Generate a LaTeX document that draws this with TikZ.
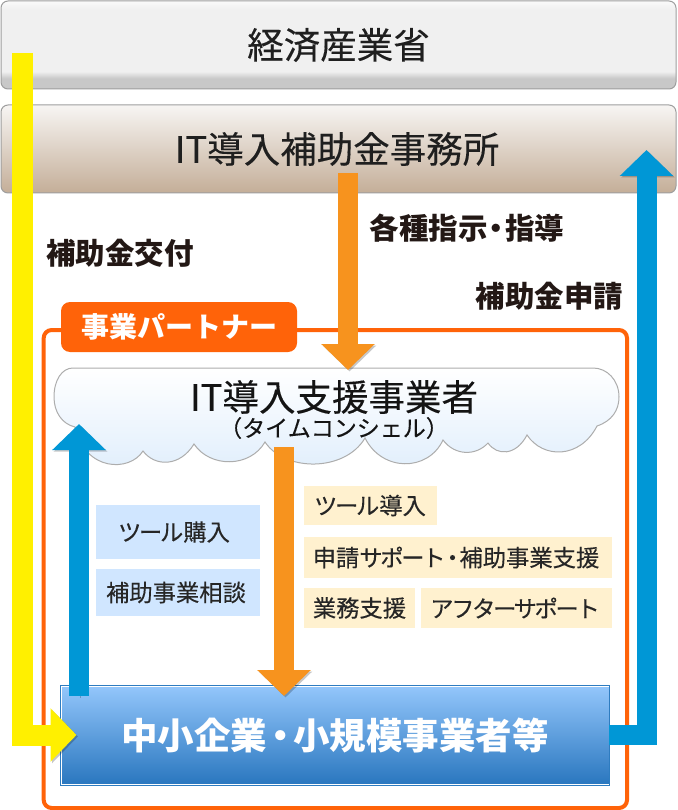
\documentclass[tikz,border=0pt]{standalone}
\usepackage{fontspec}
\setmainfont{Noto Sans CJK JP}
\newfontfamily\medf[FakeBold=0.25]{Noto Sans CJK JP}
\newfontfamily\medk[FakeBold=0.25,LetterSpace=-10]{Noto Sans CJK JP}
\usetikzlibrary{arrows.meta}
\definecolor{inkc}{HTML}{231815}
\definecolor{orangeline}{HTML}{FF6309}
\definecolor{yellowarrow}{HTML}{FFF000}
\definecolor{bluearrow}{HTML}{0097D6}
\definecolor{orangearrow}{HTML}{F7931E}
\definecolor{paleblue}{HTML}{D0E6FF}
\definecolor{cream}{HTML}{FFF1CF}
\definecolor{metilo}{HTML}{C8C8C8}
\definecolor{metimid}{HTML}{F0F0F0}
\definecolor{metihi}{HTML}{FAFAFA}
\definecolor{jimulo}{HTML}{C4AE98}
\definecolor{jimuhi}{HTML}{F7F5F3}
\definecolor{cloudlo}{HTML}{E0EEFC}
\definecolor{kigyolo}{HTML}{2A77BF}
\definecolor{kigyohi}{HTML}{93C6FB}
\definecolor{kigyoline}{HTML}{2E7CC0}
\pgfdeclareverticalshading{metishade}{100bp}{color(0bp)=(metilo); color(25bp)=(metilo); color(31bp)=(metilo); color(35bp)=(metimid); color(70bp)=(metimid); color(75bp)=(metihi); color(100bp)=(metihi)}
\pgfdeclareverticalshading{jimushade}{100bp}{color(0bp)=(jimulo); color(25bp)=(jimulo); color(75bp)=(jimuhi); color(100bp)=(jimuhi)}
\pgfdeclareverticalshading{cloudshade}{100bp}{color(0bp)=(cloudlo); color(25bp)=(cloudlo); color(75bp)=(white); color(100bp)=(white)}
\pgfdeclareverticalshading{kigyoshade}{100bp}{color(0bp)=(kigyolo); color(25bp)=(kigyolo); color(75bp)=(kigyohi); color(100bp)=(kigyohi)}
\newcommand{\nakaguro}{\hspace{-.2em}・\hspace{-.2em}}
\tikzset{
  bigbox/.style={draw=black!38,line width=1pt,rounded corners=7pt,minimum width=675pt,minimum height=88pt,inner sep=0pt,text=black!88,font=\fontsize{36.5}{40}\medf},
  boldlabel/.style={inner sep=0pt,text=inkc,font=\fontsize{29.5}{32}\selectfont\bfseries},
  softbox/.style={inner sep=0pt,text=black!85,font=\fontsize{23.3}{28}\medf},
  fatarrow/.style={line width=#1,line join=miter,-{Triangle[width=52pt,length=26pt]},
    preaction={draw=black,opacity=.22,transform canvas={shift={(1.5pt,-1.5pt)}}}},
}
\begin{document}
\begin{tikzpicture}[x=1pt,y=-1pt]
\useasboundingbox (0,0) rectangle (677,810);
\fill[white] (0,0) rectangle (677,810);
% top boxes
\node[bigbox,shading=metishade] (meti) at (338.5,45) {経済産業省};
\node[bigbox,shading=jimushade] (jimu) at (338.5,149) {IT導入補助金事務所\kern3pt};
% labels
\node[boldlabel] (kofu) at (120,253) {補助金交付};
\node[boldlabel] (shiji) at (467,228) {各種指示\nakaguro 指導};
\node[boldlabel] (shinsei) at (549.5,296) {補助金申請};
% partner frame
\draw[orangeline,line width=4pt,rounded corners=8pt] (43.7,330) rectangle (627,808);
\node[fill=orangeline,rounded corners=9pt,minimum width=236pt,minimum height=50pt,inner sep=0pt,text=white,font=\fontsize{28}{30}\selectfont\bfseries] (partner) at (179,327) {事業パートナー};
% cloud
\draw[black!32,line width=1pt,shading=cloudshade]
 (73,368) -- (593,368)
 .. controls (607,368) and (619,380) .. (619,397)
 .. controls (619,410) and (612,421) .. (597,426)
 .. controls (580,459) and (543,459) .. (527,435)
 .. controls (516,456) and (497,456) .. (488,443)
 .. controls (476,456) and (455,456) .. (443,440)
 .. controls (428,472) and (382,472) .. (365,438)
 .. controls (345,472) and (285,472) .. (265,442)
 .. controls (250,468) and (210,468) .. (194,444)
 .. controls (180,467) and (155,467) .. (143,451)
 .. controls (130,472) and (85,472) .. (75,427)
 .. controls (62,424) and (54,412) .. (54,397)
 .. controls (54,380) and (62,368) .. (73,368) -- cycle;
\node[inner sep=0pt,text=black!92,font=\fontsize{36.5}{40}\medf] (shien) at (334,397) {IT導入支援事業者};
\node[inner sep=0pt,text=black!92,font=\fontsize{23}{26}\medf] (concierge) at (334,428) {（タイムコンシェル）};
% small boxes
\node[softbox,fill=paleblue,minimum width=164pt,minimum height=54pt] (buy) at (178,532) {{\medk ツール}購入\kern8pt};
\node[softbox,fill=paleblue,minimum width=164pt,minimum height=47pt] (soudan) at (178,592.5) {補助事業相談\kern4pt};
\node[softbox,fill=cream,minimum width=133pt,minimum height=39pt] (intro) at (370.5,505.5) {{\medk ツール}導入\kern1pt};
\node[softbox,fill=cream,minimum width=308pt,minimum height=41pt] (support) at (458,557.5) {申請{\medk サポート}\nakaguro 補助事業支援\kern4pt};
\node[softbox,fill=cream,minimum width=111pt,minimum height=40pt] (gyomu) at (359.5,608) {業務支援};
\node[softbox,fill=cream,minimum width=191pt,minimum height=40pt] (after) at (516.5,608) {{\medk アフターサポート}\kern3pt};
% bottom box
\node[draw=white,line width=1pt,outer sep=0pt,shading=kigyoshade,minimum width=548pt,minimum height=98pt,inner sep=0pt,text=white,font=\fontsize{36.5}{40}\selectfont\bfseries] (kigyo) at (335,735) {中小企業\hspace{-.15em}・\hspace{-.15em}小規模事業者等};
\draw[kigyoline,line width=1pt] (60.5,685.5) rectangle (609.5,785.5);
% connector ends
\coordinate (ys) at (22.5,53);
\coordinate (yt) at (76.5,735);
\coordinate (os) at (348,173);
\coordinate (ot) at (348,370);
\coordinate (ms) at (284,447);
\coordinate (mt) at (284,696);
\coordinate (bs) at (79,696);
\coordinate (bt) at (79,424);
\coordinate (rt) at (646.5,150);
% connectors
\draw[yellowarrow,fatarrow=21pt] (ys) |- (yt);
\draw[orangearrow,fatarrow=20pt] (os) -- (ot);
\draw[orangearrow,fatarrow=20pt] (ms) -- (mt);
\draw[bluearrow,fatarrow=20pt] (bs) -- (bt);
\draw[bluearrow,fatarrow=20pt] (kigyo.east) -| (rt);
\end{tikzpicture}
\end{document}
